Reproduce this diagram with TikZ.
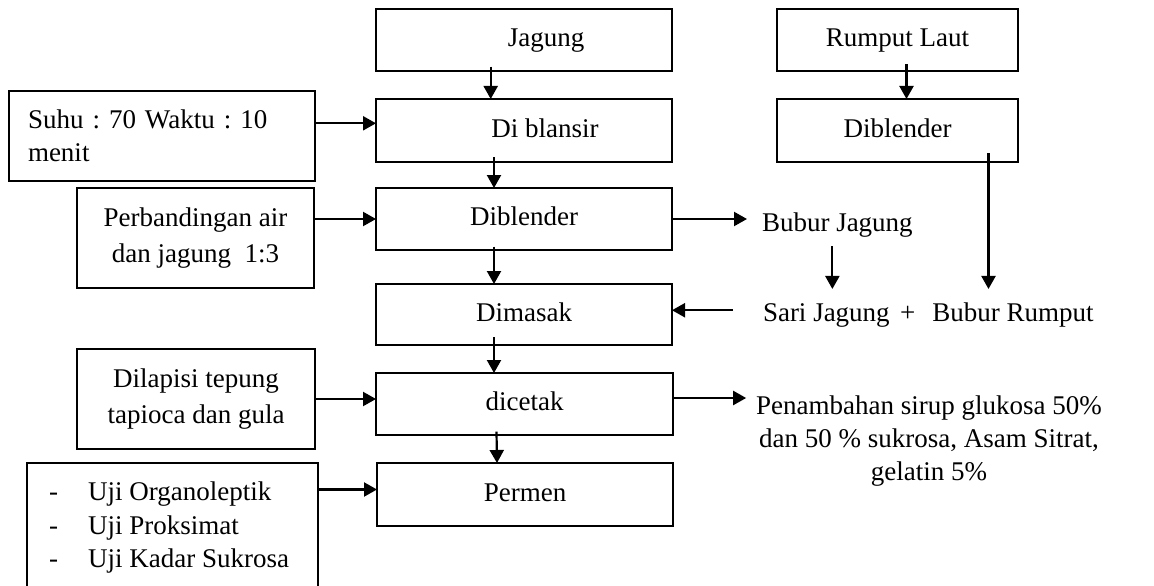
\documentclass[tikz,border=0pt]{standalone}
\usepackage{fontspec}
\setmainfont{Liberation Serif}
\usetikzlibrary{arrows.meta}
\frenchspacing
\begin{document}
\frenchspacing
\begin{tikzpicture}[x=1pt,y=-1pt,
  box/.style={draw, line width=2.2pt, inner sep=0pt, outer sep=0pt, font=\fontsize{27}{33.3}\selectfont\frenchspacing},
  onebox/.style={box, text height=18pt, text depth=5pt},
  txt/.style={inner sep=0pt, font=\fontsize{27}{33.3}\selectfont\frenchspacing},
  wide/.style={font=\fontsize{27}{36.7}\selectfont\frenchspacing},
  arr/.style={line width=2.2pt, -{Triangle[length=13pt,width=14pt]}}]
\useasboundingbox (0,0) rectangle (1154,586);
\clip (0,0) rectangle (1154,586);
\fill[white] (0,0) rectangle (1154,586);
% main column
\node[onebox, minimum width=296pt, minimum height=62pt] (jag) at (524,40) {\hspace*{44pt}Jagung};
\node[onebox, minimum width=296pt, minimum height=63pt] (bla) at (524,130.5) {\hspace*{42pt}Di blansir};
\node[onebox, minimum width=296pt, minimum height=62pt] (dib) at (524,219) {Diblender};
\node[onebox, minimum width=296pt, minimum height=61pt] (mas) at (524,314.5) {Dimasak};
\node[onebox, minimum width=297pt, minimum height=62pt] (cet) at (524.5,404) {dicetak};
\node[onebox, minimum width=296pt, minimum height=63pt] (per) at (525,494.5) {Permen};
% right column
\node[onebox, minimum width=241pt, minimum height=62pt] (rum) at (897.5,40) {Rumput Laut};
\node[onebox, minimum width=241pt, minimum height=63pt] (dibb) at (897.5,130.5) {Diblender};
% left boxes
\node[box, minimum width=306pt, minimum height=90pt, align=left, text width=268pt] (suhu) at (162,136) {Suhu : 70 Waktu : 10\\menit};
\node[box, wide, minimum width=237pt, minimum height=100pt, align=center] (perb) at (195.5,238) {Perbandingan air\\dan jagung\ \ 1:3};
\node[box, wide, minimum width=238pt, minimum height=100pt, align=center] (lap) at (196,399) {Dilapisi tepung\\tapioca dan gula};
\node[box, minimum width=291pt, minimum height=140pt] (uji) at (172.5,533) {};
\node[txt, align=left, anchor=north west] (ujit) at (49,482) {\makebox[39pt][l]{-}Uji Organoleptik\\\makebox[39pt][l]{-}Uji Proksimat\\\makebox[39pt][l]{-}Uji Kadar Sukrosa};
% free texts
\node[txt, anchor=base west, outer xsep=15pt, outer ysep=8.5pt] (bj) at (747,231.7) {Bubur Jagung};
\node[txt, anchor=base west, outer xsep=30pt, outer ysep=14pt] (sari) at (733,321.7) {Sari Jagung\hspace{10.5pt}+\hspace{17pt}Bubur Rumput};
\node[txt, align=center, anchor=north, outer xsep=10pt] (pen) at (929,395.2) {Penambahan sirup glukosa 50\%\\dan 50 \% sukrosa, Asam Sitrat,\\gelatin 5\%};
% vertical arrows
\draw[arr] ([xshift=-33.3pt,yshift=4.3pt]jag.south) -- ([xshift=-33.3pt]bla.north);
\draw[arr] ([xshift=-30pt,yshift=5pt]bla.south) -- ([xshift=-30pt]dib.north);
\draw[arr] ([xshift=-30pt,yshift=3.3pt]dib.south) -- ([xshift=-30pt]mas.north);
\draw[arr] ([xshift=-30pt,yshift=8pt]mas.south) -- ([xshift=-30.5pt]cet.north);
\draw[arr] ([xshift=-28pt,yshift=3.3pt]cet.south) -- ([xshift=-28pt]per.north);
\draw[arr] ([xshift=9pt,yshift=6.7pt]rum.south) -- ([xshift=9pt]dibb.north);
% side arrows
\draw[arr] ([yshift=12.7pt]suhu.east) -- ([yshift=12.7pt]suhu.east -| bla.west);
\draw[arr] (perb.east |- dib.west) -- (dib.west);
\draw[arr] (lap.east) -- (lap.east -| cet.west);
\draw[arr] ([yshift=5pt]per.west -| uji.east) -- ([yshift=5pt]per.west);
% right side arrows
\draw[arr] (dib.east) -- (dib.east -| bj.west);
\draw[arr] ([xshift=-5pt]bj.south) -- ([xshift=-5pt]bj.south |- sari.north);
\coordinate (dbtop) at ([xshift=91pt,yshift=9pt]dibb.south);
\draw[arr] (dbtop) -- (dbtop |- sari.north);
\draw[arr] ([yshift=5pt]sari.west) -- ([yshift=5pt]sari.west -| mas.east);
\draw[arr] ([yshift=6pt]cet.east) -- ([yshift=6pt]cet.east -| pen.west);
\end{tikzpicture}
\end{document}
